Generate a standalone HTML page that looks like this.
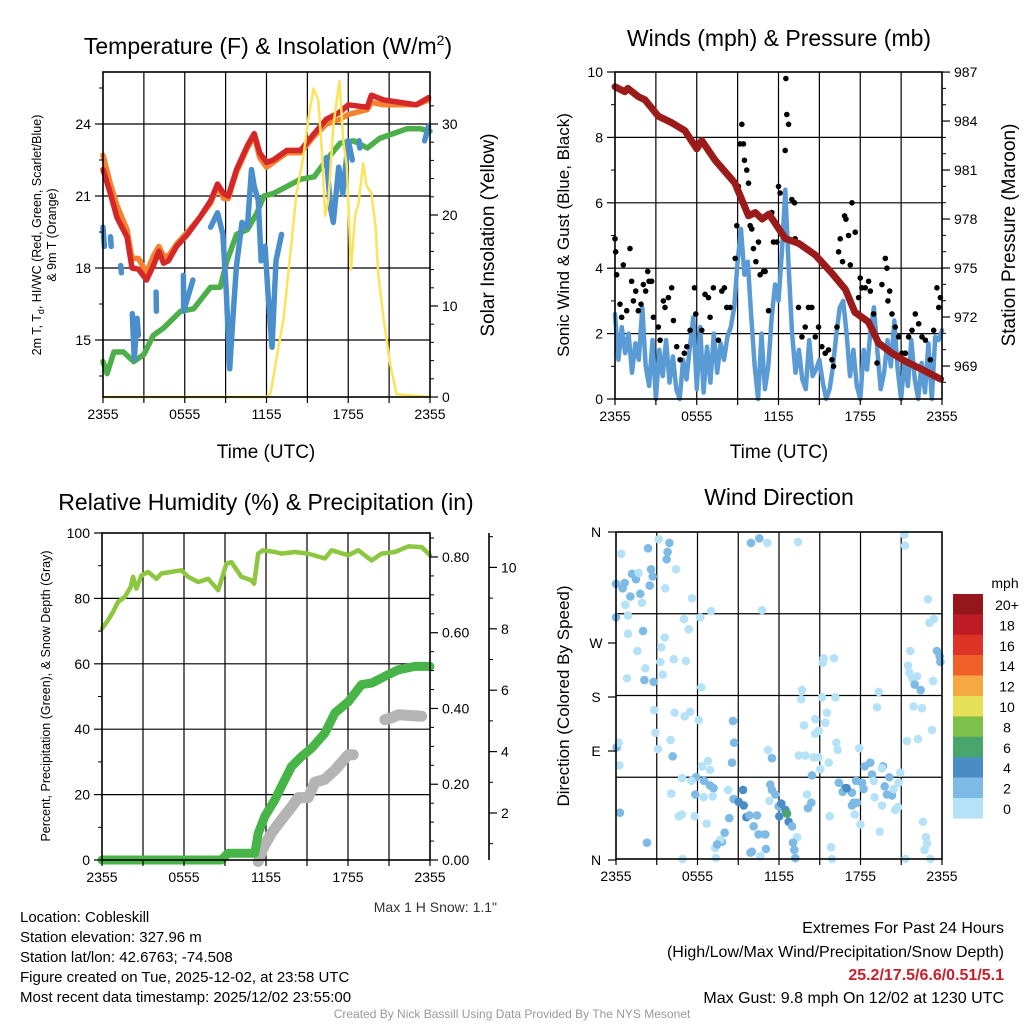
<!DOCTYPE html>
<html><head><meta charset="utf-8"><title>NYS Mesonet Cobleskill</title>
<style>
html,body{margin:0;padding:0;background:#fff;}
svg{display:block;font-family:"Liberation Sans",Arial,sans-serif;}
</style></head>
<body>
<svg id="chart" xmlns="http://www.w3.org/2000/svg" width="1024" height="1024" viewBox="0 0 1024 1024">
<rect width="1024" height="1024" fill="#fff"/>
<g id="grids"></g>
<g id="series"></g>
<g id="axes"></g>
<!-- titles -->
<text x="268" y="54" font-size="23" text-anchor="middle">Temperature (F) &amp; Insolation (W/m<tspan font-size="14" dy="-9">2</tspan><tspan dy="9">)</tspan></text>
<text x="779" y="46" font-size="23" text-anchor="middle">Winds (mph) &amp; Pressure (mb)</text>
<text x="266" y="510" font-size="23" text-anchor="middle">Relative Humidity (%) &amp; Precipitation (in)</text>
<text x="779" y="505" font-size="23" text-anchor="middle">Wind Direction</text>
<!-- axis titles -->
<text x="266" y="458" font-size="19" text-anchor="middle">Time (UTC)</text>
<text x="779" y="458" font-size="19" text-anchor="middle">Time (UTC)</text>
<text transform="translate(41,235) rotate(-90)" font-size="12.5" text-anchor="middle">2m T, T<tspan font-size="9" dy="3">d</tspan><tspan dy="-3">, HI/WC (Red, Green, Scarlet/Blue)</tspan></text>
<text transform="translate(56,235) rotate(-90)" font-size="12.5" text-anchor="middle">&amp; 9m T (Orange)</text>
<text transform="translate(494,235) rotate(-90)" font-size="19" text-anchor="middle">Solar Insolation (Yellow)</text>
<text transform="translate(569,235) rotate(-90)" font-size="17" text-anchor="middle">Sonic Wind &amp; Gust (Blue, Black)</text>
<text transform="translate(1015,235) rotate(-90)" font-size="19" text-anchor="middle">Station Pressure (Maroon)</text>
<text transform="translate(50,696) rotate(-90)" font-size="12.5" text-anchor="middle">Percent, Precipitation (Green), &amp; Snow Depth (Gray)</text>
<text transform="translate(569,696) rotate(-90)" font-size="17" text-anchor="middle">Direction (Colored By Speed)</text>
<text x="497" y="912" font-size="14" text-anchor="end" fill="#333">Max 1 H Snow: 1.1"</text>
<!-- colorbar -->
<g id="colorbar"></g>
<text x="1005" y="588" font-size="14" text-anchor="middle">mph</text>
<!-- info text -->
<g font-size="15" fill="#000">
<text x="20" y="922">Location: Cobleskill</text>
<text x="20" y="942">Station elevation: 327.96 m</text>
<text x="20" y="962">Station lat/lon: 42.6763; -74.508</text>
<text x="20" y="982">Figure created on Tue, 2025-12-02, at 23:58 UTC</text>
<text x="20" y="1002">Most recent data timestamp: 2025/12/02 23:55:00</text>
<text x="1004" y="933" font-size="16" text-anchor="end">Extremes For Past 24 Hours</text>
<text x="1004" y="957" font-size="16" text-anchor="end">(High/Low/Max Wind/Precipitation/Snow Depth)</text>
<text x="1004" y="980" font-size="16" font-weight="bold" fill="#c8202a" text-anchor="end">25.2/17.5/6.6/0.51/5.1</text>
<text x="1004" y="1003" font-size="16" text-anchor="end">Max Gust: 9.8 mph On 12/02 at 1230 UTC</text>
</g>
<text x="512" y="1018" font-size="12" fill="#999" text-anchor="middle">Created By Nick Bassill Using Data Provided By The NYS Mesonet</text>
</svg>
<script>
// ---------- data ----------
const xTickHours = [0, 6, 12, 18, 24];
const xTickLabels = ["2355", "0555", "1155", "1755", "2355"];
// Temperature panel
const tempT = [0,0.54,1.03,1.76,2.13,2.6,3.2,3.7,4.1,4.45,4.8,5.4,6.2,7.1,7.9,8.4,8.85,9.2,9.8,10.6,11.1,11.5,12.0,12.5,13.5,14.5,15.5,16.4,17.4,18.0,19.4,19.7,20.6,21.8,23.0,23.9];
const temp2m = [22.1,21.1,20.1,19.3,18.0,17.95,17.5,18.1,18.7,18.2,18.3,18.9,19.4,20.1,20.8,21.5,21.1,21.0,22.1,23.1,23.6,22.8,22.4,22.5,22.9,22.9,23.6,24.2,24.5,24.8,24.7,25.2,25.0,24.9,24.8,25.1];
const temp9m = [22.7,21.5,20.6,19.6,18.4,18.4,17.8,18.5,18.9,18.5,18.5,19.0,19.5,20.1,20.7,21.4,20.9,20.9,22.0,23.0,23.5,22.6,22.2,22.4,22.8,22.8,23.5,24.0,24.2,24.4,24.6,24.9,24.8,24.8,24.8,25.0];
const dewT = [0,0.3,0.8,1.5,2.25,3.0,3.7,4.45,5.7,6.65,7.9,8.6,9.1,9.8,10.6,11.3,11.8,12.5,13.5,14.5,15.5,16.4,17.4,18.4,19.4,20.3,21.3,22.3,23.3,24];
const dewV = [14.1,13.6,14.5,14.5,14.1,14.4,15.2,15.5,16.2,16.3,17.2,17.2,18.3,19.4,19.6,20.3,21.0,21.1,21.4,21.7,21.8,22.5,23.2,23.3,23.0,23.4,23.6,23.8,23.8,23.7];
const chillT = [0,0.1,null,0.55,0.6,null,1.3,1.35,null,2.15,2.3,2.5,2.6,null,3.9,3.92,null,5.9,5.92,6.6,null,7.9,8.4,8.8,9.05,9.3,9.5,9.8,10.2,10.6,10.9,11.1,11.4,11.6,11.9,12.1,12.4,12.7,13.1,null,16.4,16.7,16.9,17.3,17.6,18.0,18.3,null,18.8,18.85,null,23.6,23.9];
const chillV = [19.7,18.9,null,19.3,18.9,null,18.1,17.8,null,16.1,14.2,15.9,15.2,null,17.0,16.2,null,17.7,16.2,17.5,null,19.7,20.3,19.4,17.0,13.8,15.6,18.1,19.9,19.7,22.1,21.4,20.8,18.3,18.9,17.0,14.7,18.3,19.4,null,22.6,20.5,19.9,22.2,21.1,23.3,22.5,null,23.3,23.0,null,23.3,23.9];
const solT = [0,12.0,12.3,12.8,13.25,13.7,14.2,14.7,15.1,15.45,15.8,16.1,16.3,16.55,16.9,17.35,17.65,17.9,18.2,18.5,18.75,19.1,19.35,19.7,20.0,20.2,20.6,21.1,21.55,24];
const solV = [0,0,0.4,4.8,8.5,15.1,22.4,26.4,30.8,33.9,32.6,26.1,19.9,21.7,29.8,34.7,27.9,25.3,14.0,19.9,21.3,25.7,23.2,22.4,18.8,13.6,8.5,3.4,0.3,0];
const tempTicks = [24, 21, 18, 15];
const solTicks = [30, 20, 10, 0];
// Wind panel
const windT = [];
for (let i = 0; i <= 96; i++) windT.push(i * 0.25);
const windV = [2.6,1.2,2.2,1.4,2.0,0.8,1.7,1.2,2.8,1.0,0.4,1.8,
 0.0,1.5,0.7,1.8,0.5,1.3,0.3,0.0,1.2,0.6,1.6,2.5,
 0.3,2.2,0.2,1.6,0.5,2.0,0.8,1.7,1.2,1.9,2.2,2.8,
 4.2,5.2,3.8,4.2,2.5,1.0,0.0,2.0,0.3,1.0,2.5,3.5,
 3.0,4.5,6.4,4.0,2.0,0.8,1.5,0.6,0.3,1.8,0.7,0.9,
 1.2,0.5,0.0,0.3,1.0,2.0,2.8,3.0,2.0,0.7,1.5,0.4,
 0.0,1.5,0.9,2.1,2.8,1.5,0.3,0.8,1.8,1.0,2.4,0.9,
 0.0,1.2,0.4,1.8,0.6,0.0,1.1,0.2,1.7,0.0,1.9,1.8,2.1];
const gustT = [0,0.05,0.12,0.37,0.49,0.61,0.86,1.1,1.22,1.35,1.52,1.71,1.91,2.08,2.25,2.4,2.5,2.69,2.82,3.18,3.31,3.55,3.67,3.92,4.16,4.29,4.53,4.78,5.09,5.27,5.51,5.83,5.93,6.37,6.61,6.86,6.98,7.22,7.59,7.84,8.03,8.2,8.45,8.82,8.94,9.06,9.18,9.31,9.43,9.5,9.67,9.8,9.92,10.04,10.16,10.34,10.53,10.65,10.9,11.02,11.27,11.51,11.63,11.88,12.0,12.12,12.49,12.61,12.74,12.54,12.98,13.18,13.22,13.47,13.72,13.96,14.2,14.45,14.7,14.94,15.18,15.43,15.67,15.92,16.04,16.29,16.41,16.53,16.7,16.85,16.95,17.14,17.27,17.39,17.63,17.88,18.0,18.12,18.37,18.61,18.74,18.98,19.23,19.59,19.84,19.96,20.03,20.16,20.33,20.57,20.82,21.06,21.31,21.55,21.8,22.04,22.29,22.53,22.78,23.14,23.39,23.63,23.76,23.88];
const gustV = [4.9,4.5,3.8,2.9,2.5,4.1,2.7,4.6,3.6,3.0,3.3,2.7,2.9,3.5,3.3,3.9,3.6,3.6,2.5,2.2,1.8,3.0,2.8,3.1,3.4,2.4,1.6,1.2,1.4,1.6,2.1,3.4,2.6,2.1,3.2,3.1,2.5,3.4,1.8,3.3,3.4,2.8,2.8,4.3,5.3,6.5,7.8,8.4,7.8,7.3,7.0,6.6,5.3,5.2,4.6,4.2,4.8,3.8,3.9,3.9,2.7,5.7,4.8,4.8,6.5,6.3,7.6,8.7,8.4,9.8,6.1,6.0,4.9,2.8,1.9,2.2,2.8,2.8,1.9,2.2,1.6,1.4,1.5,1.2,1.0,2.2,4.5,4.9,4.2,5.6,5.5,5.0,4.1,6.0,5.1,3.1,3.7,3.4,3.4,3.6,3.3,2.6,1.1,3.5,4.3,4.0,3.0,3.3,2.6,2.2,1.9,1.4,1.4,1.9,2.1,2.6,2.3,1.9,1.8,1.2,2.1,3.4,2.8,3.1];
const presT = [0,0.73,0.95,1.71,2.2,3.18,4.16,5.14,6.0,6.37,7.35,8.8,9.3,9.8,10.3,10.8,11.3,12.5,13.5,14.7,15.9,16.9,17.6,18.6,19.35,20.3,21.3,22.5,23.9];
const presV = [986.1,985.8,986.0,985.5,985.3,984.3,983.9,983.4,982.3,982.8,981.6,980.2,979.2,978.2,978.4,978.0,978.3,976.8,976.5,975.8,974.7,973.7,972.3,971.7,970.4,969.8,969.3,968.8,968.2];
const windTicks = [0, 2, 4, 6, 8, 10];
const presTicks = [987, 984, 981, 978, 975, 972, 969];
// Humidity panel
const rhT = [0,0.44,0.81,1.17,1.66,2.1,2.27,2.52,2.88,3.37,3.98,4.35,5.08,5.81,6.3,7.03,7.77,8.5,9.11,9.47,10.2,10.94,11.13,11.43,11.79,12.65,13.13,14.11,15.09,16.31,16.8,18.02,18.75,19.73,20.46,21.44,22.41,23.39,24];
const rhV = [70.8,73.3,75.9,78.9,80.4,83.5,86.6,83,87,88.1,86,87.6,88.1,88.6,86.6,85,86,82.5,90.6,91.1,86.6,85.5,84.5,93.7,94.7,94.2,93.7,94.2,93.7,92.2,94.7,93.2,94.7,91.6,93.7,94.2,95.9,95.7,93.2];
const prT = [0,8.74,9.23,11.18,11.43,11.91,12.65,13.13,13.87,14.6,15.33,16.31,17.04,18.02,18.99,19.73,20.7,21.68,22.9,24];
const prV = [0,0,0.018,0.018,0.07,0.115,0.159,0.194,0.247,0.273,0.295,0.335,0.388,0.418,0.463,0.467,0.485,0.502,0.511,0.511];
const snT = [11.43,11.79,12.4,13.13,13.87,14.36,15.09,15.58,16.31,17.04,18.02,18.38,null,20.7,21.19,21.68,23.39];
const snV = [0.42,0.86,1.35,1.78,2.2,2.5,2.5,3.0,3.1,3.4,3.9,3.9,null,5.04,5.1,5.2,5.15];
const rhTicks = [0, 20, 40, 60, 80, 100];
const prTicks = [0, 0.2, 0.4, 0.6, 0.8];
const prTickLabels = ["0.00", "0.20", "0.40", "0.60", "0.80"];
const snTicks = [2, 4, 6, 8, 10];
// Wind direction panel
const dirT = [0.39,0,0.49,0.64,1.18,1.47,1.67,1.06,1.79,1.91,2.36,2.58,2.7,2.48,3.14,3.93,3.8,3.73,4.42,3.63,0.69,0.88,0,1.99,0.88,1.57,3.58,3.34,5.6,5.0,5.35,6.2,7.0,3.26,4.25,5.15,2.16,0.81,2.09,2.77,3.44,6.28,10.75,9.94,10.55,11.14,13.4,21.23,21.28,22.97,23.39,23.07,23.63,23.83,23.88,21.67,21.5,21.6,21.8,22.16,21.99,22.43,23.34,21.9,22.53,23.26,22.23,21.42,15.29,15.22,16.05,13.69,13.64,15.17,16.15,15.53,14.67,15.41,13.84,14.92,14.67,19.34,19.21,16.22,16.32,17.91,11.19,11.48,13.45,13.94,14.55,14.92,15.66,15.04,14.43,8.61,8.69,8.54,0.05,0.2,0.25,2.9,3.09,2.82,4.32,5.06,5.45,6.09,4.02,4.17,6.33,6.92,6.77,4.86,5.89,5.55,6.48,6.92,7.18,5.84,6.45,7.12,4.07,4.86,4.62,5.79,6.67,8.25,8.66,8.34,9.03,9.35,9.4,9.6,9.82,10.38,10.13,8.0,7.8,7.68,7.31,7.44,10.01,9.9,10.5,10.99,10.63,11.04,11.36,11.48,11.73,11.29,11.98,12.17,12.47,12.02,12.71,12.96,13.33,13.03,13.13,13.2,14.06,14.38,14.13,15.73,15.83,15.9,4.9,7.36,2.28,0.29,16.4,16.88,16.69,17.37,17.5,17.37,17.74,17.57,17.67,18.11,18.23,18.31,18.72,18.85,18.97,19.66,19.58,20.12,19.78,19.95,20.32,20.44,20.81,20.93,19.04,19.58,20.56,20.76,17.99,19.41,22.6,22.82,22.9,22.72,23.14,21.3,16.98,12.59];
const dirV = [336,303,298,304,314,308,315,289,292,282,342,319,311,301,352,348,338,330,319,298,280,268,266,251,248,229,244,233,287,264,253,266,273,217,220,218,210,199,197,195,203,189,274,348,353,348,349,357,345,286,264,260,229,223,217,229,213,205,199,201,192,186,196,168,166,142,132,130,221,216,221,186,176,178,178,161,154,150,147,141,138,184,167,128,120,122,120,111,114,114,112,112,106,99,92,152,128,106,123,128,103,139,121,164,161,157,162,153,131,113,102,98,108,89,90,86,86,81,78,71,68,69,72,49,47,47,39,76,66,45,63,76,59,46,48,48,36,29,19,21,12,16,8,7,27,27,3,11,82,76,71,64,58,61,54,47,41,36,24,18,10,1,71,62,56,47,13,0,0,1,18,51,84,78,74,73,62,59,62,49,86,84,77,102,106,93,86,102,100,90,80,71,70,77,84,95,68,59,54,57,38,30,41,24,17,10,0,0,78,50];
const dirS = [1,3,3,3,3,3,1,3,3,1,3,3,3,3,1,3,3,3,1,1,1,1,3,3,1,1,1,1,1,1,1,1,1,1,1,1,1,1,3,3,1,1,1,3,3,1,1,1,1,1,1,1,3,3,3,1,1,1,1,1,3,3,1,1,1,1,1,1,1,1,1,1,1,1,1,1,1,1,1,1,1,1,1,1,1,1,1,3,1,1,1,1,1,1,3,3,3,3,3,1,1,1,1,1,1,1,1,1,1,3,1,1,1,1,3,1,3,3,3,3,1,1,1,1,1,1,1,1,3,3,5,5,5,5,3,3,3,3,3,1,1,3,3,3,3,3,1,3,3,3,3,1,3,5,5,5,5,3,1,3,3,3,1,3,3,1,1,1,1,1,3,3,3,5,3,3,3,3,3,1,3,3,3,3,3,3,1,3,1,3,3,3,3,1,1,1,1,1,1,1,1,1,1,1,1,1,1,1,5,7];
const dirTickLabels = ["N", "W", "S", "E", "N"];
const dirTickY = [532, 643, 697, 751, 860];
const cbLabels = ["20+", "18", "16", "14", "12", "10", "8", "6", "4", "2", "0"];
const cbColors = ["#95161b","#bd1c25","#dc3326","#ef6129","#f6a843","#e7e15a","#7dc04a","#48a56c","#4a8dc6","#7dbae6","#b5e2f7"];

// ---------- helpers ----------
const NS = "http://www.w3.org/2000/svg";
const gG = document.getElementById("grids"), gS = document.getElementById("series"), gA = document.getElementById("axes");
function mk(tag, attrs, parent) {
  const e = document.createElementNS(NS, tag);
  for (const k in attrs) e.setAttribute(k, attrs[k]);
  parent.appendChild(e);
  return e;
}
function xScale(P) { return h => P.L + (h / 24) * (P.R - P.L); }
function pathD(ts, vs, xs, ys) {
  let d = "", pen = false;
  for (let i = 0; i < ts.length; i++) {
    if (ts[i] === null || vs[i] === null) { pen = false; continue; }
    d += (pen ? "L" : "M") + xs(ts[i]).toFixed(1) + " " + ys(vs[i]).toFixed(1);
    pen = true;
  }
  return d;
}
function drawLine(ts, vs, xs, ys, color, w, name, parent) {
  const p = mk("path", {d: pathD(ts, vs, xs, ys), fill: "none", stroke: color, "stroke-width": w, "stroke-linejoin": "round", "stroke-linecap": "round"}, parent);
  
  
  return p;
}
function frame(P, name) {
  const xs = xScale(P);
  for (let h = 3; h < 24; h += 3) {
    const l = mk("line", {x1: xs(h), x2: xs(h), y1: P.T, y2: P.B, stroke: "#000", "stroke-width": 1.2}, gG);
    
    
  }
  const r = mk("rect", {x: P.L, y: P.T, width: P.R - P.L, height: P.B - P.T, fill: "none", stroke: "#000", "stroke-width": 1.6}, gA);
  
  
  for (let h = 0; h <= 24; h += 3) {
    const t = mk("line", {x1: xs(h), x2: xs(h), y1: P.B, y2: P.B + 6, stroke: "#000", "stroke-width": 1.2}, gA);
    
    
  }
  xTickHours.forEach((h, i) => {
    const t = mk("text", {x: xs(h), y: P.B + 22, "font-size": 14, "text-anchor": "middle"}, gA);
    t.textContent = xTickLabels[i];
    
    
  });
}
function hgrid(P, ys, vals, name) {
  vals.forEach(v => {
    const l = mk("line", {x1: P.L, x2: P.R, y1: ys(v), y2: ys(v), stroke: "#000", "stroke-width": 1.2}, gG);
    
    
  });
}
function yAxis(x, ys, vals, labels, side, name, minorVals) {
  (minorVals || []).forEach(v => {
    const t = mk("line", {x1: x, x2: x + side * 4, y1: ys(v), y2: ys(v), stroke: "#000", "stroke-width": 1}, gA);
    
    
  });
  vals.forEach((v, i) => {
    const t = mk("line", {x1: x, x2: x + side * 8, y1: ys(v), y2: ys(v), stroke: "#000", "stroke-width": 1.2}, gA);
    
    
    const lb = mk("text", {x: x + side * 12, y: ys(v) + 5, "font-size": 14, "text-anchor": side < 0 ? "end" : "start"}, gA);
    lb.textContent = labels[i];
    
    
  });
}

// ---------- panel 1: temperature ----------
const P1 = {L: 103, R: 430, T: 72, B: 397};
const x1 = xScale(P1);
const yT = v => 124 + (24 - v) * 24;
const ySol = v => 397 - v * 9.1;
frame(P1, "temp");
hgrid(P1, yT, tempTicks, "temp");
yAxis(P1.L, yT, tempTicks, tempTicks.map(String), -1, "temp-y", [25.5, 22.5, 19.5, 16.5, 13.5]);
yAxis(P1.R, ySol, solTicks, solTicks.map(String), 1, "insolation-y", [2,4,6,8,12,14,16,18,22,24,26,28,32]);
drawLine(tempT, temp9m, x1, yT, "#f58231", 5.5, "temp-9m-line", gS);
drawLine(tempT, temp2m, x1, yT, "#d62728", 5.5, "temp-2m-line", gS);
drawLine(dewT, dewV, x1, yT, "#4daf4a", 5.5, "dewpoint-line", gS);
drawLine(chillT, chillV, x1, yT, "#4a8fcc", 5.5, "wind-chill-line", gS);
drawLine(solT, solV, x1, ySol, "#fbe35a", 2.5, "insolation-line", gS);

// ---------- panel 2: winds ----------
const P2 = {L: 615, R: 942, T: 72, B: 399};
const x2 = xScale(P2);
const yW = v => 399 - v * 32.7;
const yP = p => 366 - (p - 969) * 16.33;
frame(P2, "wind");
hgrid(P2, yW, [2, 4, 6, 8], "wind");
yAxis(P2.L, yW, windTicks, windTicks.map(String), -1, "wind-y", [1,3,5,7,9]);
yAxis(P2.R, yP, presTicks, presTicks.map(String), 1, "pressure-y", [986,985,983,982,980,979,977,976,974,973,971,970,968]);
drawLine(windT, windV, x2, yW, "#5a9bd5", 4.5, "sonic-wind-line", gS);
gustT.forEach((t, i) => {
  const c = mk("circle", {cx: x2(t), cy: yW(gustV[i]), r: 2.8, fill: "#000"}, gS);
  
  
});
drawLine(presT, presV, x2, yP, "#9b1a1a", 7, "pressure-line", gS);

// ---------- panel 3: humidity ----------
const P3 = {L: 102, R: 430, T: 533, B: 860};
const x3 = xScale(P3);
const yRH = v => 860 - v * 3.27;
const yPr = v => 860 - v * 378.8;
const ySn = v => 874.4 - v * 30.7;
frame(P3, "humidity");
hgrid(P3, yRH, [20, 40, 60, 80], "humidity");
yAxis(P3.L, yRH, rhTicks, rhTicks.map(String), -1, "humidity-y", [10,30,50,70,90]);
yAxis(P3.R, yPr, prTicks, prTickLabels, 1, "precip-y", [0.05,0.1,0.15,0.25,0.3,0.35,0.45,0.5,0.55,0.65,0.7,0.75,0.85]);
const snAx = mk("line", {x1: 489, x2: 489, y1: 533, y2: 860, stroke: "#000", "stroke-width": 1.6}, gA);


yAxis(489, ySn, snTicks, snTicks.map(String), 1, "snow-y", [1,3,5,7,9,11]);
drawLine(snT, snV, x3, ySn, "#b4b4b4", 11, "snow-depth-line", gS);
drawLine(prT, prV, x3, yPr, "#46b446", 9, "precipitation-line", gS);
drawLine(rhT, rhV, x3, yRH, "#8dc63f", 4.5, "humidity-line", gS);

// ---------- panel 4: wind direction ----------
const P4 = {L: 616, R: 942, T: 532, B: 859};
const x4 = xScale(P4);
const yD = d => 859 - d / 360 * 327;
frame(P4, "direction");
hgrid(P4, yD, [90, 180, 270], "direction");
dirTickY.forEach((y, i) => {
  const t = mk("line", {x1: P4.L - 8, x2: P4.L, y1: y, y2: y, stroke: "#000", "stroke-width": 1.2}, gA);
  
  
  const lb = mk("text", {x: P4.L - 20, y: y + 5, "font-size": 14, "text-anchor": "middle"}, gA);
  lb.textContent = dirTickLabels[i];
  
  
});
function speedColor(s) {
  const bin = Math.min(10, Math.floor(s / 2));
  return cbColors[10 - bin];
}
dirT.forEach((t, i) => {
  const c = mk("circle", {cx: x4(t), cy: yD(dirV[i]), r: 4.3, fill: speedColor(dirS[i])}, gS);
  
  
});
// colorbar
const cb = document.getElementById("colorbar");
cbLabels.forEach((lab, i) => {
  const y = 594 + i * 20.4;
  const r = mk("rect", {x: 953, y: y, width: 30, height: 20.6, fill: cbColors[i]}, cb);
  
  
  const t = mk("text", {x: 1007, y: y + 16, "font-size": 14, "text-anchor": "middle"}, cb);
  t.textContent = lab;
  
  
});
</script>
</body></html>
